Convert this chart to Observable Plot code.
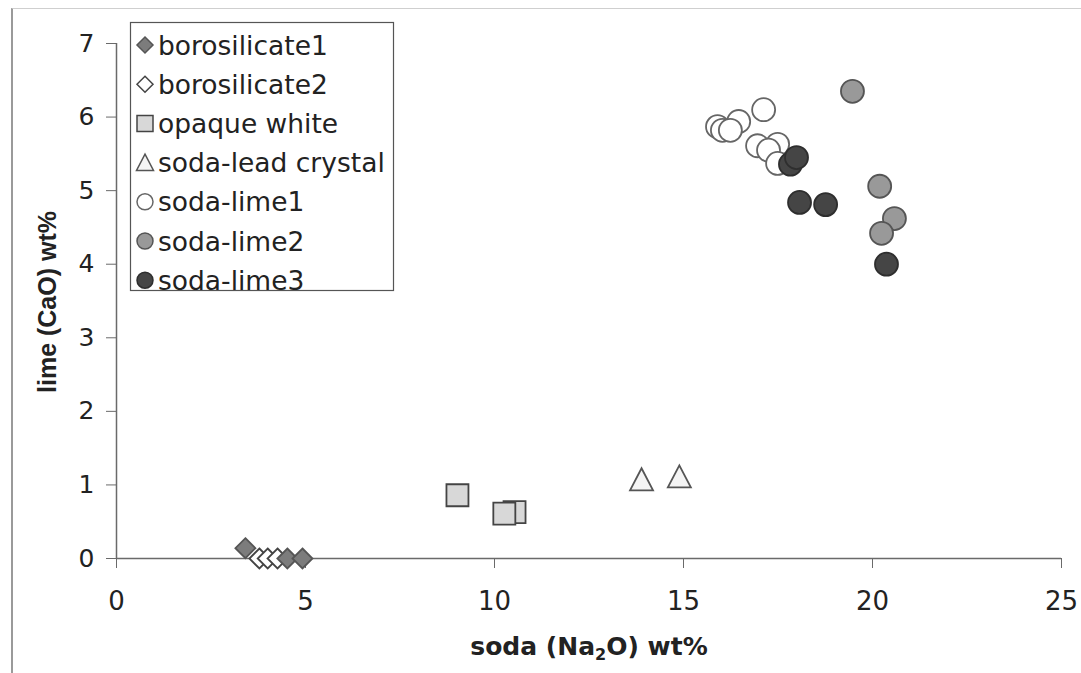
<!DOCTYPE html>
<html><head><meta charset="utf-8">
<script src="https://cdn.jsdelivr.net/npm/d3@7"></script>
<script src="https://cdn.jsdelivr.net/npm/@observablehq/plot@0.6"></script>
<style>
html,body{margin:0;padding:0;background:#fff;}
#wrap{position:relative;width:1081px;height:673px;overflow:hidden;}
#frame{position:absolute;left:11px;top:8px;width:1100px;height:700px;border-left:2px solid #9a9a9a;border-top:1px solid #cfcfcf;pointer-events:none;}
#wrap > svg{position:absolute;left:0;top:0;}
</style></head><body>
<div id="wrap"><div id="frame"></div></div>
<script>
// ---- data ----
const series = ["borosilicate1","borosilicate2","opaque white","soda-lead crystal","soda-lime1","soda-lime2","soda-lime3"];
const borosilicate1Soda = [3.41, 4.52, 4.92];
const borosilicate1Lime = [0.14, 0.0, 0.0];
const borosilicate2Soda = [3.78, 4.0, 4.26];
const borosilicate2Lime = [0.0, 0.0, 0.0];
const opaqueWhiteSoda = [9.02, 10.53, 10.26];
const opaqueWhiteLime = [0.86, 0.63, 0.61];
const sodaLeadSoda = [13.89, 14.89];
const sodaLeadLime = [1.07, 1.11];
const sodaLime1Soda = [15.90, 16.03, 16.46, 16.24, 17.12, 16.96, 17.49, 17.25, 17.49];
const sodaLime1Lime = [5.87, 5.82, 5.94, 5.82, 6.10, 5.61, 5.63, 5.55, 5.37];
const sodaLime2Soda = [19.47, 20.19, 20.58, 20.24];
const sodaLime2Lime = [6.35, 5.06, 4.62, 4.42];
const sodaLime3Soda = [17.83, 17.99, 18.07, 18.76, 20.37];
const sodaLime3Lime = [5.36, 5.45, 4.84, 4.81, 4.00];
const xTicks = [0, 5, 10, 15, 20, 25];
const yTicks = [0, 1, 2, 3, 4, 5, 6, 7];
const xTitle = ["soda (Na", "2", "O) wt%"];
const yTitle = "lime (CaO) wt%";

// ---- styles ----
const sym = {
  circle: {draw(c, s) { const r = Math.sqrt(s / Math.PI); c.moveTo(r, 0); c.arc(0, 0, r, 0, 2 * Math.PI); }},
  square: {draw(c, s) { const r = Math.sqrt(s / Math.PI); c.rect(-r, -r, 2 * r, 2 * r); }},
  diamond: {draw(c, s) { const r = Math.sqrt(s / Math.PI); c.moveTo(0, -r); c.lineTo(r, 0); c.lineTo(0, r); c.lineTo(-r, 0); c.closePath(); }},
  triangle: {draw(c, s) { const r = Math.sqrt(s / Math.PI); c.moveTo(0, -r); c.lineTo(r, r * 0.92); c.lineTo(-r, r * 0.92); c.closePath(); }}
};
const styles = {
  "borosilicate1": {symbol: sym.diamond, fill: "#7c7c7c", stroke: "#555", r: 10, lr: 8},
  "borosilicate2": {symbol: sym.diamond, fill: "#ffffff", stroke: "#444", r: 10, lr: 8},
  "opaque white": {symbol: sym.square, fill: "#d8d8d8", stroke: "#444", r: 11, lr: 8},
  "soda-lead crystal": {symbol: sym.triangle, fill: "#f4f4f4", stroke: "#555", r: 11.5, lr: 8.5},
  "soda-lime1": {symbol: sym.circle, fill: "#ffffff", stroke: "#666", r: 11.5, lr: 8},
  "soda-lime2": {symbol: sym.circle, fill: "#999999", stroke: "#555", r: 11.5, lr: 8},
  "soda-lime3": {symbol: sym.circle, fill: "#454545", stroke: "#2e2e2e", r: 11.5, lr: 8}
};
const FONT = "'DejaVu Sans', Verdana, sans-serif";
const FONT_Y = "'Liberation Sans', Arial, Helvetica, sans-serif";

const pts = (xs, ys) => xs.map((x, i) => ({x, y: ys[i]}));
const seriesData = {
  "borosilicate2": pts(borosilicate2Soda, borosilicate2Lime),
  "borosilicate1": pts(borosilicate1Soda, borosilicate1Lime),
  "opaque white": pts(opaqueWhiteSoda, opaqueWhiteLime),
  "soda-lead crystal": pts(sodaLeadSoda, sodaLeadLime),
  "soda-lime1": pts(sodaLime1Soda, sodaLime1Lime),
  "soda-lime2": pts(sodaLime2Soda, sodaLime2Lime),
  "soda-lime3": pts(sodaLime3Soda, sodaLime3Lime)
};
const drawOrder = ["borosilicate2", "borosilicate1", "opaque white", "soda-lead crystal", "soda-lime1", "soda-lime2", "soda-lime3"];

const plot = Plot.plot({
  width: 1081, height: 673,
  marginLeft: 116, marginRight: 20, marginTop: 43, marginBottom: 115,
  style: {fontFamily: FONT, fontSize: "24px", color: "#222", background: "transparent", overflow: "visible"},
  x: {domain: [0, 25]},
  y: {domain: [0, 7]},
  marks: [
    Plot.axisX({ticks: xTicks, tickFormat: d3.format("d"), tickSize: 10, tickPadding: 23, label: null, stroke: "#6a6a6a", fill: "#222", fontSize: 26}),
    Plot.axisY({ticks: yTicks, tickFormat: d3.format("d"), tickSize: 10, tickPadding: 12, label: null, stroke: "#6a6a6a", fill: "#222", fontSize: 25}),
    Plot.ruleY([0], {stroke: "#6a6a6a", strokeWidth: 1.5}),
    Plot.ruleX([0], {stroke: "#6a6a6a", strokeWidth: 1.5}),
    ...drawOrder.map(name => Plot.dot(seriesData[name], {
      x: "x", y: "y", symbol: styles[name].symbol, r: styles[name].r,
      fill: styles[name].fill, stroke: styles[name].stroke, strokeWidth: 1.8, fillOpacity: 1
    }))
  ]
});

document.getElementById("wrap").appendChild(plot);
const svg = d3.select(plot);

// axis titles
const xt = svg.append("text")
  .attr("x", 589).attr("y", 655)
  .attr("text-anchor", "middle").attr("font-family", FONT).attr("font-weight", "bold")
  .attr("font-size", 25).attr("fill", "#222");
xt.append("tspan").text(xTitle[0]);
xt.append("tspan").attr("font-size", 16).attr("dy", 5).text(xTitle[1]);
xt.append("tspan").attr("dy", -5).text(xTitle[2]);
svg.append("text")
  .attr("transform", `translate(47,302) rotate(-90)`)
  .attr("text-anchor", "middle").attr("dominant-baseline", "central")
  .attr("font-family", FONT_Y).attr("font-weight", "bold").attr("font-size", 25).attr("fill", "#222")
  .text(yTitle);

// legend
const lg = svg.append("g");
lg.append("rect").attr("x", 130.5).attr("y", 22.5).attr("width", 263).attr("height", 268)
  .attr("fill", "#fff").attr("stroke", "#555").attr("stroke-width", 1.2);
series.forEach((name, i) => {
  const cy = 45 + i * 39.2, st = styles[name];
  lg.append("path").attr("transform", `translate(145,${cy})`)
    .attr("d", d3.symbol(st.symbol, Math.PI * st.lr * st.lr)())
    .attr("fill", st.fill).attr("stroke", st.stroke).attr("stroke-width", 1.5);
  lg.append("text").attr("x", 158).attr("y", cy)
    .attr("text-anchor", "start").attr("dominant-baseline", "central")
    .attr("font-family", FONT).attr("font-size", 26.5).attr("fill", "#222")
    .text(name);
});
</script>
</body></html>
